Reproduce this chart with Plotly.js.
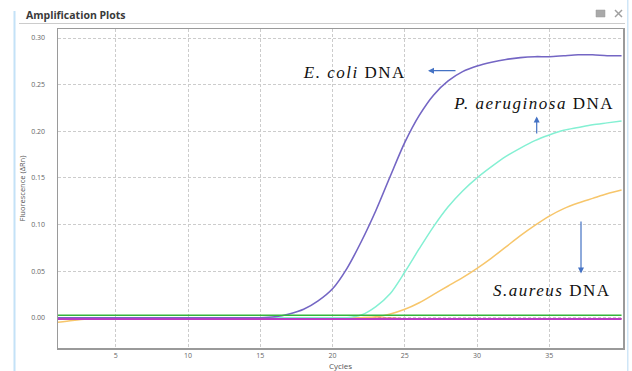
<!DOCTYPE html>
<html>
<head>
<meta charset="utf-8">
<script src="https://cdn.plot.ly/plotly-3.0.1.min.js"></script>
<style>
  html, body { margin: 0; padding: 0; background: #ffffff; }
  #chart { width: 632px; height: 371px; }
</style>
</head>
<body>
<div id="chart"></div>
<script>
// ---- data ----
var cycles = [1,2,3,4,5,6,7,8,9,10,11,12,13,14,15,16,17,18,19,20,
              21,22,23,24,25,26,27,28,29,30,31,32,33,34,35,36,37,38,39,40];

var ecoli = [0,0,0,0,0,0,0,0,0,0,0,0,0,0,0,0.001,0.004,0.009,0.018,0.031,
             0.053,0.082,0.115,0.152,0.188,0.217,0.239,0.254,0.264,0.270,
             0.274,0.277,0.279,0.280,0.280,0.281,0.282,0.282,0.281,0.281];

var paeruginosa = [0,0,0,0,0,0,0,0,0,0,0,0,0,0,0,0,0,0,0,0,
                   0,0.003,0.012,0.026,0.049,0.074,0.098,0.119,0.136,0.150,
                   0.162,0.173,0.182,0.190,0.196,0.201,0.204,0.207,0.209,0.211];

var saureus = [-0.005,-0.003,-0.0015,-0.001,-0.0005,-0.0005,-0.0005,-0.0005,-0.0005,-0.0005,
               -0.0005,-0.0005,-0.0005,-0.0005,-0.0005,-0.0005,-0.0005,-0.0005,-0.0005,-0.0005,
               -0.0005,0,0.001,0.004,0.009,0.016,0.025,0.034,0.043,0.053,
               0.064,0.076,0.088,0.099,0.109,0.117,0.123,0.128,0.133,0.137];

var redBaseline = [-0.001,-0.001,-0.001,-0.001,-0.001,-0.001,-0.001,-0.001,-0.001,-0.001,
                   -0.001,-0.001,-0.001,-0.001,-0.001,-0.001,-0.001,-0.001,-0.001,-0.0005,
                   -0.0005,-0.0005,-0.0005,-0.0005,-0.001,-0.001,-0.001,-0.001,-0.001,-0.001,
                   -0.001,-0.001,-0.001,-0.001,-0.001,-0.001,-0.001,-0.001,-0.001,-0.001];

var greenThreshold = [0.0025,0.0025,0.0025,0.0025,0.0025,0.0025,0.0025,0.0025,0.0025,0.0025,
                      0.0025,0.0025,0.0025,0.0025,0.0025,0.0025,0.0025,0.0025,0.0025,0.0025,
                      0.0025,0.0025,0.0025,0.0025,0.0025,0.0025,0.0025,0.0025,0.0025,0.0025,
                      0.0025,0.0025,0.0025,0.0025,0.0025,0.0025,0.0025,0.0025,0.0025,0.0025];

var magentaThreshold = [-0.0015,-0.0015,-0.0015,-0.0015,-0.0015,-0.0015,-0.0015,-0.0015,-0.0015,-0.0015,
                        -0.0015,-0.0015,-0.0015,-0.0015,-0.0015,-0.0015,-0.0015,-0.0015,-0.0015,-0.0015,
                        -0.0015,-0.0015,-0.0015,-0.0015,-0.0015,-0.0015,-0.0015,-0.0015,-0.0015,-0.0015,
                        -0.0015,-0.0015,-0.0015,-0.0015,-0.0015,-0.0015,-0.0015,-0.0015,-0.0015,-0.0015];

// threshold handle markers (left of the first cycle)
var handleCycle = [0.45];
var greenHandle = [0.004];
var magentaHandle = [-0.001];

var xTickVals = [5,10,15,20,25,30,35];
var xTickText = ['5','10','15','20','25','30','35'];
var yTickVals = [0,0.05,0.10,0.15,0.20,0.25,0.30];
var yTickText = ['0.00','0.05','0.10','0.15','0.20','0.25','0.30'];

var labelEcoli = '<i>E. coli</i> DNA';
var labelPaer = '<i>P. aeruginosa</i> DNA';
var labelSaur = '<i>S.aureus</i> DNA';

// ---- layout helpers: pixel -> paper ----
var W = 632, H = 371, ML = 58, MR = 9, MT = 29, MB = 23;
var PW = W - ML - MR, PH = H - MT - MB;
function px(x) { return (x - ML) / PW; }
function py(y) { return (H - MB - y) / PH; }

function line(c, w, y, name) {
  return { x: cycles, y: y, type: 'scatter', mode: 'lines', name: name,
           line: { color: c, width: w, shape: 'spline', smoothing: 0.8 }, hoverinfo: 'skip' };
}

var traces = [
  line('#e05a3c', 1.3, redBaseline, 'baseline'),
  line('#f7c66b', 1.5, saureus, 'S. aureus'),
  line('#84f0d3', 1.5, paeruginosa, 'P. aeruginosa'),
  line('#7466c4', 1.6, ecoli, 'E. coli'),
  { x: cycles, y: magentaThreshold, type: 'scatter', mode: 'lines', name: 'threshold 2',
    line: { color: '#b93bc2', width: 2 }, hoverinfo: 'skip' },
  { x: cycles, y: greenThreshold, type: 'scatter', mode: 'lines', name: 'threshold 1',
    line: { color: '#34b53a', width: 1.5 }, hoverinfo: 'skip' },
  { x: handleCycle, y: greenHandle, type: 'scatter', mode: 'markers', cliponaxis: false,
    marker: { symbol: 'triangle-right', size: 9, color: '#34b53a' }, hoverinfo: 'skip' },
  { x: handleCycle, y: magentaHandle, type: 'scatter', mode: 'markers', cliponaxis: false,
    marker: { symbol: 'triangle-right', size: 9, color: '#b01cc0' }, hoverinfo: 'skip' }
];

var serif = 'Liberation Serif, Times New Roman, serif';
var sans = 'Open Sans, Liberation Sans, Arial, sans-serif';

var layout = {
  width: W, height: H,
  margin: { l: ML, r: MR, t: MT, b: MB, pad: 0 },
  paper_bgcolor: '#ffffff', plot_bgcolor: '#ffffff',
  showlegend: false,
  font: { family: sans, color: '#666666', size: 7 },
  xaxis: {
    range: [1, 40.1], tickvals: xTickVals, ticktext: xTickText,
    showgrid: true, gridcolor: '#cccccc', griddash: '3px,2px', gridwidth: 1,
    zeroline: false, showline: true, linecolor: '#9a9a9a', linewidth: 1.5, mirror: true,
    ticks: '', tickfont: { size: 7, color: '#666666' },
    title: { text: 'Cycles', font: { size: 8, color: '#555555' }, standoff: 1 },
    automargin: false, fixedrange: true
  },
  yaxis: {
    range: [-0.0325, 0.3097], tickvals: yTickVals, ticktext: yTickText,
    showgrid: true, gridcolor: '#cccccc', griddash: '3px,2px', gridwidth: 1,
    zeroline: false, showline: true, linecolor: '#9a9a9a', linewidth: 1.5, mirror: true,
    ticks: 'outside', ticklen: 10, tickcolor: 'rgba(0,0,0,0)',
    tickfont: { size: 7, color: '#666666' },
    title: { text: 'Fluorescence (ΔRn)', font: { size: 7.5, color: '#555555' }, standoff: 4 },
    automargin: false, fixedrange: true
  },
  shapes: [
    // window borders
    { type: 'rect', xref: 'paper', yref: 'paper', x0: px(13.5), x1: px(15.5), y0: py(371), y1: py(11),
      fillcolor: '#c4e2f7', line: { width: 0 }, layer: 'below' },
    { type: 'rect', xref: 'paper', yref: 'paper', x0: px(627), x1: px(628.5), y0: py(371), y1: py(0),
      fillcolor: '#cfe6f7', line: { width: 0 }, layer: 'below' },
    // separator under the header
    { type: 'line', xref: 'paper', yref: 'paper', x0: px(19), x1: px(625), y0: py(23.5), y1: py(23.5),
      line: { color: '#cccccc', width: 1 } },
    // header icons
    { type: 'rect', xref: 'paper', yref: 'paper', x0: px(596), x1: px(605), y0: py(17), y1: py(10),
      fillcolor: '#a9a9a9', line: { color: '#9a9a9a', width: 0.5 } },
    { type: 'line', xref: 'paper', yref: 'paper', x0: px(615), x1: px(622), y0: py(10), y1: py(17),
      line: { color: '#a0a0a0', width: 1.5 } },
    { type: 'line', xref: 'paper', yref: 'paper', x0: px(615), x1: px(622), y0: py(17), y1: py(10),
      line: { color: '#a0a0a0', width: 1.5 } }
  ],
  annotations: [
    { text: '<b>Amplification Plots</b>', xref: 'paper', yref: 'paper', x: px(24), y: py(15),
      xanchor: 'left', yanchor: 'middle', showarrow: false,
      font: { family: sans, size: 10.5, color: '#3a3a3a' } },
    { text: labelEcoli, xref: 'paper', yref: 'paper', x: px(354), y: py(72),
      xanchor: 'center', yanchor: 'middle', showarrow: false,
      font: { family: serif, size: 17, color: '#111111' } },
    { text: labelPaer, xref: 'paper', yref: 'paper', x: px(534), y: py(103),
      xanchor: 'center', yanchor: 'middle', showarrow: false,
      font: { family: serif, size: 17, color: '#111111' } },
    { text: labelSaur, xref: 'paper', yref: 'paper', x: px(552), y: py(290),
      xanchor: 'center', yanchor: 'middle', showarrow: false,
      font: { family: serif, size: 17, color: '#111111' } },
    // arrows
    { text: '', xref: 'paper', yref: 'paper', x: px(428), y: py(70.7), ax: 29, ay: 0,
      showarrow: true, arrowhead: 2, arrowsize: 1, arrowwidth: 1.2, arrowcolor: '#4472c4' },
    { text: '', xref: 'paper', yref: 'paper', x: px(536.7), y: py(116.5), ax: 0, ay: 18.5,
      showarrow: true, arrowhead: 2, arrowsize: 1, arrowwidth: 1.2, arrowcolor: '#4472c4' },
    { text: '', xref: 'paper', yref: 'paper', x: px(581), y: py(273.5), ax: 0, ay: -53.5,
      showarrow: true, arrowhead: 2, arrowsize: 1, arrowwidth: 1.2, arrowcolor: '#4472c4' }
  ]
};

Plotly.newPlot('chart', traces, layout, { displayModeBar: false, staticPlot: true }).then(function () {
  // the reference's serif labels are set a little wider than the font's natural width
  var texts = document.querySelectorAll('.annotation-text');
  texts.forEach(function (t) {
    var s = t.textContent || '';
    if (s.indexOf('DNA') !== -1) { t.style.letterSpacing = '1.5px'; }
  });
});
</script>
</body>
</html>
